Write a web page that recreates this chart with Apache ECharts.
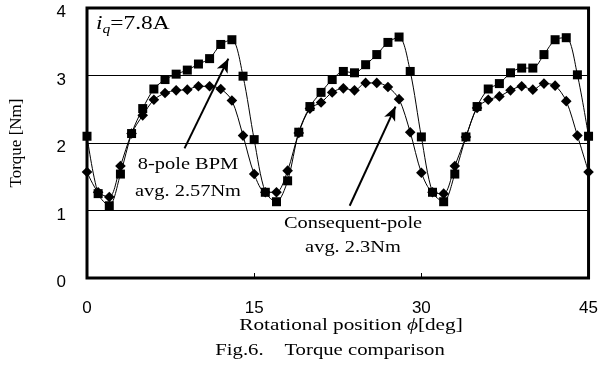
<!DOCTYPE html>
<html>
<head>
<meta charset="utf-8">
<script src="https://cdn.jsdelivr.net/npm/echarts@6/dist/echarts.min.js"></script>
<style>
  html, body { margin: 0; padding: 0; background: #fff; }
  #chart { width: 601px; height: 385px; }
</style>
</head>
<body>
<div id="chart"></div>
<script>
// rotational position, deg
const positions = [];
for (let d = 0; d <= 45; d++) positions.push(d);

// 8-pole BPM (squares)
const bpmTorque = [2.10, 1.25, 1.07, 1.54, 2.14, 2.51, 2.80, 2.94, 3.02, 3.08,
  3.17, 3.25, 3.46, 3.53, 2.99, 2.05, 1.27, 1.13, 1.44, 2.16,
  2.54, 2.75, 2.94, 3.06, 3.04, 3.16, 3.31, 3.49, 3.57, 3.06,
  2.09, 1.27, 1.13, 1.54, 2.09, 2.54, 2.80, 2.88, 3.04, 3.11,
  3.11, 3.31, 3.53, 3.56, 3.01, 2.10];

// consequent-pole (diamonds)
const cpTorque = [1.57, 1.27, 1.20, 1.66, 2.14, 2.41, 2.64, 2.74, 2.78, 2.79,
  2.84, 2.84, 2.80, 2.63, 2.11, 1.54, 1.27, 1.27, 1.59, 2.15,
  2.51, 2.60, 2.75, 2.81, 2.78, 2.89, 2.89, 2.83, 2.65, 2.16,
  1.56, 1.27, 1.25, 1.66, 2.09, 2.52, 2.64, 2.69, 2.78, 2.84,
  2.79, 2.88, 2.85, 2.62, 2.11, 1.57];

const xTicks = [0, 15, 30, 45];
const yTicks = [0, 1, 2, 3, 4];

// arrows pointing at the curves (data coords)
const arrowBpm = [[8.75, 1.92], [12.68, 3.25]];
const arrowCp = [[23.57, 1.07], [27.68, 2.54]];

const serif = '"Liberation Serif", "DejaVu Serif", serif';
const sans = '"Liberation Sans", Arial, sans-serif';

const chart = echarts.init(document.getElementById('chart'));

function pairs(vals) {
  return positions.map((x, i) => [x, vals[i]]);
}

// the original figure is a bit stretched sideways, so texts get scaleX
const option = {
  backgroundColor: '#fff',
  animation: false,
  grid: {
    left: 86, right: 11, top: 8, bottom: 107,
    show: true, borderColor: '#000', borderWidth: 3, backgroundColor: 'transparent'
  },
  xAxis: {
    type: 'value',
    min: xTicks[0], max: xTicks[xTicks.length - 1], interval: 15,
    axisLine: { show: false },
    axisTick: { show: true, inside: true, length: 5, lineStyle: { color: '#000', width: 1 } },
    axisLabel: { color: '#000', fontFamily: sans, fontSize: 17, margin: 22 },
    splitLine: { show: false }
  },
  yAxis: {
    type: 'value',
    min: yTicks[0], max: yTicks[yTicks.length - 1], interval: 1,
    name: 'Torque [Nm]',
    nameLocation: 'middle',
    nameGap: 62,
    nameTextStyle: { color: '#000', fontFamily: serif, fontSize: 17 },
    axisLine: { show: false },
    axisTick: { show: false },
    axisLabel: {
      margin: 21,
      formatter: (v) => '{t|' + v + '}',
      rich: { t: { color: '#000', fontFamily: sans, fontSize: 17, padding: [9, 0, 0, 0] } }
    },
    splitLine: { show: true, lineStyle: { color: '#000', width: 1 } }
  },
  series: [
    {
      name: '8-pole BPM',
      type: 'line',
      data: pairs(bpmTorque),
      smooth: 0.3,
      symbol: 'rect',
      symbolSize: 9,
      itemStyle: { color: '#000' },
      lineStyle: { color: '#000', width: 1 },
      z: 3,
      markLine: {
        silent: true,
        symbol: ['none', 'arrow'],
        symbolSize: [9, 14],
        label: { show: false },
        lineStyle: { color: '#000', width: 2, type: 'solid' },
        data: [
          [{ coord: arrowBpm[0] }, { coord: arrowBpm[1] }],
          [{ coord: arrowCp[0] }, { coord: arrowCp[1] }]
        ]
      }
    },
    {
      name: 'Consequent-pole',
      type: 'line',
      data: pairs(cpTorque),
      smooth: 0.3,
      symbol: 'rect',
      symbolRotate: 45,
      symbolSize: 7.5,
      itemStyle: { color: '#000' },
      lineStyle: { color: '#000', width: 1 },
      z: 4
    }
  ],
  graphic: [
    {
      type: 'text', x: 96, y: 24, scaleX: 1.3,
      style: {
        text: '{i|i}{sub|q}{n|=7.8A}', verticalAlign: 'middle',
        rich: {
          i: { fontFamily: serif, fontStyle: 'italic', fontSize: 18, fill: '#000' },
          sub: { fontFamily: serif, fontStyle: 'italic', fontSize: 12, fill: '#000', padding: [11, 0, 0, 0] },
          n: { fontFamily: serif, fontSize: 18, fill: '#000' }
        }
      }
    },
    {
      type: 'text', x: 188, y: 178, scaleX: 1.2,
      style: {
        text: '8-pole BPM\navg. 2.57Nm', align: 'center', verticalAlign: 'middle',
        fontFamily: serif, fontSize: 17, lineHeight: 27, fill: '#000'
      }
    },
    {
      type: 'text', x: 353, y: 236, scaleX: 1.2,
      style: {
        text: 'Consequent-pole\navg. 2.3Nm', align: 'center', verticalAlign: 'middle',
        fontFamily: serif, fontSize: 17, lineHeight: 24, fill: '#000'
      }
    },
    {
      type: 'text', x: 351, y: 326, scaleX: 1.25,
      style: {
        text: '{n|Rotational position }{p|ϕ}{n|[deg]}', align: 'center', verticalAlign: 'middle',
        rich: {
          n: { fontFamily: serif, fontSize: 17, fill: '#000' },
          p: { fontFamily: serif, fontStyle: 'italic', fontSize: 17, fill: '#000' }
        }
      }
    },
    {
      type: 'text', x: 330, y: 351, scaleX: 1.22,
      style: {
        text: 'Fig.6.    Torque comparison', align: 'center', verticalAlign: 'middle',
        fontFamily: serif, fontSize: 17, fill: '#000'
      }
    }
  ]
};

chart.setOption(option);
</script>
</body>
</html>
